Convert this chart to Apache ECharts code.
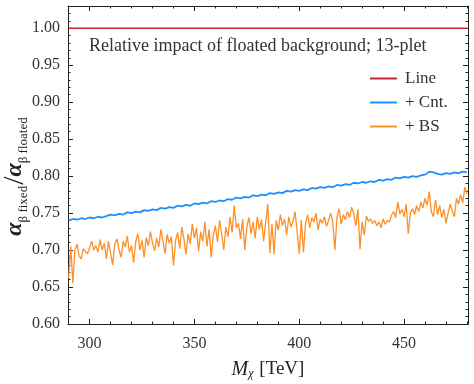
<!DOCTYPE html>
<html>
<head>
<meta charset="utf-8">
<script src="https://cdn.jsdelivr.net/npm/echarts@6/dist/echarts.min.js"></script>
<style>
  html, body { margin: 0; padding: 0; background: #fff; }
  #chart { width: 474px; height: 384px; }
</style>
</head>
<body>
<div id="chart"></div>
<script>
// M_chi grid for the noisy "+ BS" curve (1 TeV steps) and the "+ Cnt." curve (2 TeV steps)
var massBS = [];
for (var m = 290; m <= 480; m++) massBS.push(m);
var massCnt = [];
for (var m2 = 290; m2 <= 480; m2 += 2) massCnt.push(m2);

var lineX = [290, 480];
var lineY = [1.0, 1.0];

var cntY = [
  0.740, 0.742, 0.741, 0.743, 0.742, 0.744, 0.743, 0.745, 0.744, 0.746,
  0.748, 0.747, 0.749, 0.748, 0.751, 0.750, 0.752, 0.751, 0.754, 0.753,
  0.755, 0.754, 0.757, 0.756, 0.758, 0.757, 0.760, 0.759, 0.761, 0.760,
  0.763, 0.762, 0.764, 0.763, 0.766, 0.765, 0.767, 0.766, 0.769, 0.768,
  0.771, 0.770, 0.772, 0.771, 0.774, 0.773, 0.775, 0.774, 0.777, 0.776,
  0.778, 0.777, 0.780, 0.779, 0.781, 0.780, 0.782, 0.781, 0.784, 0.783,
  0.785, 0.784, 0.786, 0.785, 0.788, 0.787, 0.789, 0.788, 0.791, 0.790,
  0.792, 0.791, 0.793, 0.792, 0.795, 0.794, 0.796, 0.795, 0.798, 0.797,
  0.799, 0.798, 0.800, 0.799, 0.801, 0.802, 0.806, 0.805, 0.803, 0.802,
  0.804, 0.803, 0.805, 0.804, 0.806, 0.805
];

var bsY = [
  0.662, 0.705, 0.655, 0.700, 0.708, 0.692, 0.688, 0.702, 0.698, 0.695,
  0.703, 0.712, 0.700, 0.706, 0.697, 0.714, 0.700, 0.709, 0.688, 0.712,
  0.696, 0.680, 0.708, 0.715, 0.701, 0.690, 0.712, 0.704, 0.719, 0.697,
  0.706, 0.683, 0.711, 0.722, 0.700, 0.713, 0.690, 0.717, 0.706, 0.725,
  0.710, 0.699, 0.716, 0.704, 0.728, 0.712, 0.695, 0.721, 0.709, 0.718,
  0.679, 0.713, 0.724, 0.702, 0.731, 0.715, 0.694, 0.722, 0.708, 0.735,
  0.716, 0.730, 0.698, 0.725, 0.712, 0.738, 0.705, 0.728, 0.690, 0.720,
  0.733, 0.711, 0.740, 0.722, 0.700, 0.731, 0.718, 0.745, 0.724, 0.760,
  0.730, 0.736, 0.715, 0.742, 0.700, 0.731, 0.744, 0.722, 0.738, 0.716,
  0.745, 0.728, 0.741, 0.712, 0.737, 0.762, 0.696, 0.735, 0.694, 0.740,
  0.727, 0.748, 0.733, 0.742, 0.720, 0.745, 0.731, 0.739, 0.752, 0.725,
  0.695, 0.741, 0.697, 0.736, 0.748, 0.730, 0.744, 0.738, 0.750, 0.727,
  0.742, 0.736, 0.745, 0.732, 0.740, 0.750, 0.738, 0.700, 0.744, 0.756,
  0.735, 0.748, 0.741, 0.752, 0.744, 0.758, 0.749, 0.733, 0.755, 0.701,
  0.738, 0.720, 0.746, 0.739, 0.742, 0.736, 0.740, 0.733, 0.738, 0.730,
  0.742, 0.735, 0.740, 0.738, 0.747, 0.752, 0.744, 0.765, 0.749, 0.755,
  0.745, 0.762, 0.722, 0.750, 0.756, 0.748, 0.760, 0.752, 0.765, 0.757,
  0.770, 0.761, 0.779, 0.752, 0.745, 0.768, 0.748, 0.760, 0.744, 0.755,
  0.736, 0.750, 0.762, 0.753, 0.745, 0.770, 0.762, 0.775, 0.764, 0.785,
  0.776
];

var xMajor = [300, 350, 400, 450];
var xMinor = [290, 310, 320, 330, 340, 360, 370, 380, 390, 410, 420, 430, 440, 460, 470, 480];
var yMajor = [0.60, 0.65, 0.70, 0.75, 0.80, 0.85, 0.90, 0.95, 1.00];
var yMinor = [0.61, 0.62, 0.63, 0.64, 0.66, 0.67, 0.68, 0.69, 0.71, 0.72, 0.73, 0.74,
  0.76, 0.77, 0.78, 0.79, 0.81, 0.82, 0.83, 0.84, 0.86, 0.87, 0.88, 0.89,
  0.91, 0.92, 0.93, 0.94, 0.96, 0.97, 0.98, 0.99, 1.01, 1.02];

var FONT = '"Liberation Serif", "DejaVu Serif", serif';
var XMIN = 289.7, XMAX = 480.5, YMIN = 0.6, YMAX = 1.03;

function pair(arrX, arrY) {
  return arrX.map(function (x, i) { return [x, arrY[i]]; });
}

function xAxisOf(pos, ticks, len, main) {
  return {
    type: 'value', position: pos, min: XMIN, max: XMAX,
    axisLine: { show: main, onZero: false, lineStyle: { color: '#222', width: 1 } },
    axisTick: { show: true, inside: true, length: len, customValues: ticks, lineStyle: { color: '#222' } },
    axisLabel: {
      show: main && pos === 'bottom', customValues: ticks, margin: 12,
      fontFamily: FONT, fontSize: 16, color: '#333'
    },
    splitLine: { show: false }
  };
}

function yAxisOf(pos, ticks, len, main) {
  return {
    type: 'value', position: pos, min: YMIN, max: YMAX,
    axisLine: { show: main, onZero: false, lineStyle: { color: '#222', width: 1 } },
    axisTick: { show: true, inside: true, length: len, customValues: ticks, lineStyle: { color: '#222' } },
    axisLabel: {
      show: main && pos === 'left', customValues: ticks, margin: 8,
      fontFamily: FONT, fontSize: 16, color: '#333',
      formatter: function (v) { return v.toFixed(2); }
    },
    splitLine: { show: false }
  };
}

var chart = echarts.init(document.getElementById('chart'));

var xAxes = [
  xAxisOf('bottom', xMajor, 5, true),
  xAxisOf('bottom', xMinor, 2.5, false),
  xAxisOf('top', xMajor, 5, true),
  xAxisOf('top', xMinor, 2.5, false)
];
xAxes[0].name = '{i|M}{s|χ} [TeV]';
xAxes[0].nameLocation = 'middle';
xAxes[0].nameGap = 35;
xAxes[0].nameMoveOverlap = false;
xAxes[0].nameTextStyle = {
  fontFamily: FONT, fontSize: 19, color: '#222',
  rich: {
    i: { fontFamily: FONT, fontSize: 20, fontStyle: 'italic', color: '#222' },
    s: { fontFamily: FONT, fontSize: 12, fontStyle: 'italic', color: '#222', verticalAlign: 'bottom', padding: [9, 1, 0, 0] }
  }
};

var yAxes = [
  yAxisOf('left', yMajor, 5, true),
  yAxisOf('left', yMinor, 2.5, false),
  yAxisOf('right', yMajor, 5, true),
  yAxisOf('right', yMinor, 2.5, false)
];
yAxes[0].name = '{a|α}{s|β fixed}{d|/}{a|α}{s|β floated}';
yAxes[0].nameLocation = 'middle';
yAxes[0].nameGap = 38;
yAxes[0].nameMoveOverlap = false;
yAxes[0].nameTextStyle = {
  fontFamily: FONT, fontSize: 18, color: '#222', padding: [0, 22, 0, 0],
  rich: {
    a: { fontFamily: FONT, fontSize: 24, fontStyle: 'italic', fontWeight: 'bold', color: '#222' },
    d: { fontFamily: FONT, fontSize: 30, color: '#222' },
    s: { fontFamily: FONT, fontSize: 13, color: '#222', verticalAlign: 'bottom', padding: [11, 1, 0, 0] }
  }
};

var option = {
  backgroundColor: '#fff',
  animation: false,
  title: {
    text: 'Relative impact of floated background; 13-plet',
    left: 89, top: 37, padding: 0,
    textStyle: { fontFamily: FONT, fontSize: 18, fontWeight: 'normal', color: '#333' }
  },
  grid: { left: 68, right: 6, top: 6, bottom: 60, containLabel: false, outerBoundsMode: 'none' },
  legend: {
    orient: 'vertical', left: 365, top: 65,
    icon: 'rect', itemWidth: 27, itemHeight: 2, itemGap: 7,
    textStyle: { fontFamily: FONT, fontSize: 17, color: '#333', lineHeight: 17, padding: [0, 0, 0, 3] },
    data: ['Line', '+ Cnt.', '+ BS']
  },
  xAxis: xAxes,
  yAxis: yAxes,
  series: [
    {
      name: 'Line', type: 'line', data: pair(lineX, lineY),
      showSymbol: false, symbol: 'none', lineStyle: { color: '#c8262b', width: 1.5 },
      itemStyle: { color: '#c8262b' }
    },
    {
      name: '+ Cnt.', type: 'line', data: pair(massCnt, cntY),
      showSymbol: false, symbol: 'none', lineStyle: { color: '#1e8fff', width: 1.8 },
      itemStyle: { color: '#1e8fff' }
    },
    {
      name: '+ BS', type: 'line', data: pair(massBS, bsY),
      showSymbol: false, symbol: 'none', lineStyle: { color: '#ff8f26', width: 1.3 },
      itemStyle: { color: '#ff8f26' }
    }
  ]
};

chart.setOption(option);
</script>
</body>
</html>
